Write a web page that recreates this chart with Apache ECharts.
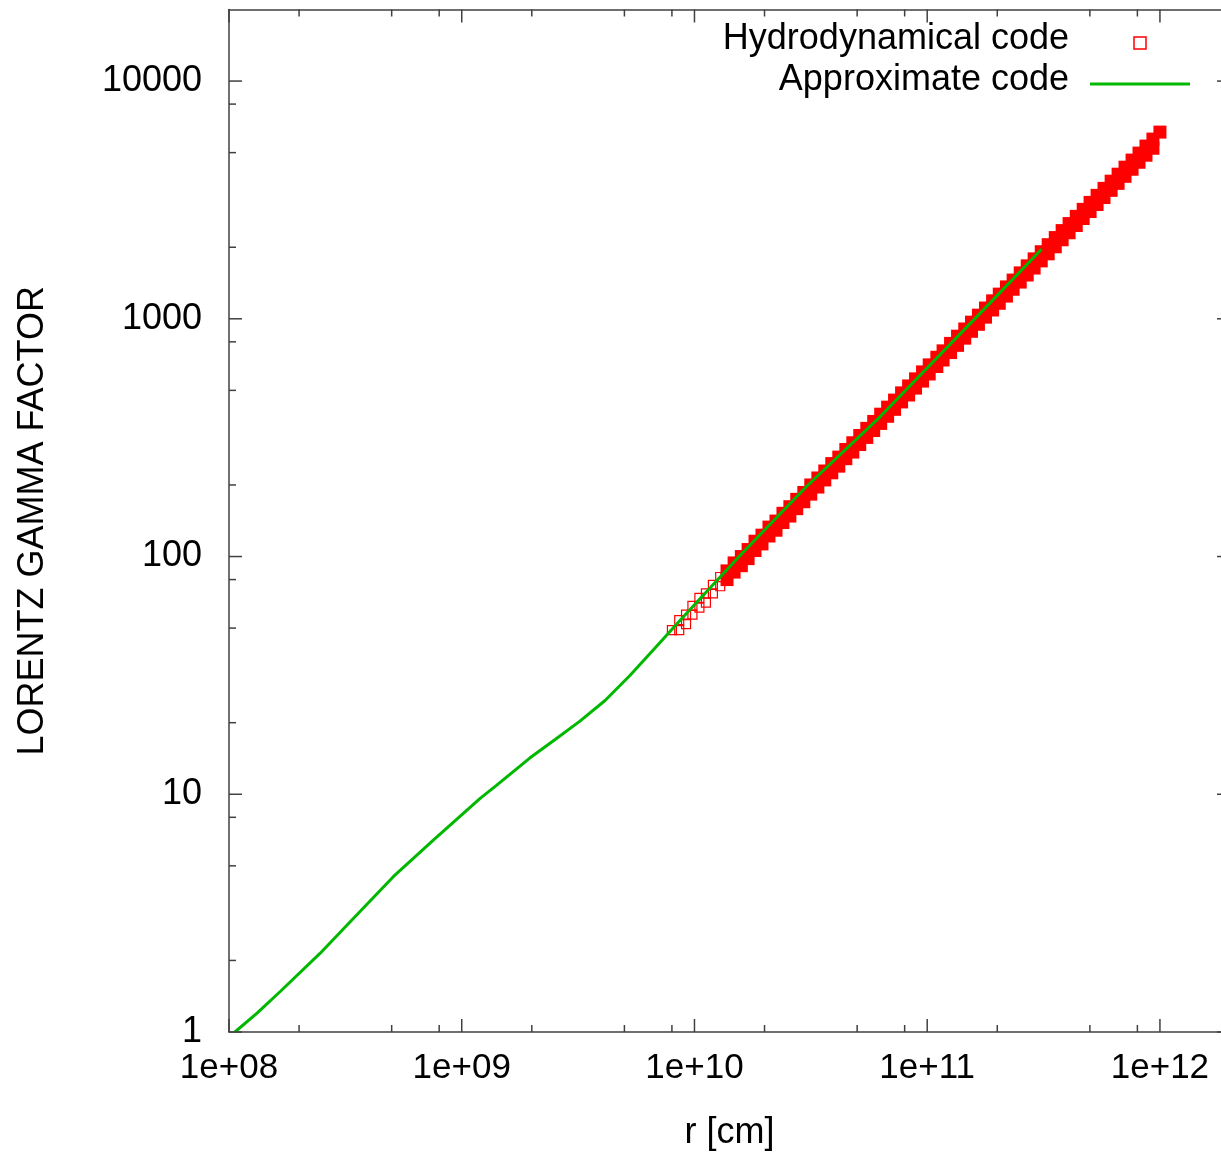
<!DOCTYPE html>
<html><head><meta charset="utf-8">
<script src="https://cdn.jsdelivr.net/npm/echarts@6/dist/echarts.min.js"></script>
<style>html,body{margin:0;padding:0;background:#fff}#chart{width:1221px;height:1152px}</style>
</head><body><div id="chart"></div>
<script>
// ---- data ----
const approxR = [1.06e8, 1.32e8, 1.66e8, 2.46e8, 3.31e8, 5.08e8, 7.55e8, 1.2e9, 1.41e9, 1.96e9, 2.52e9, 3.22e9, 4.13e9, 5.28e9, 6.77e9, 8.66e9, 1.57e10, 3.03e10, 6.27e10, 1.74e11, 3.1e11];
const approxGamma = [1.0, 1.2, 1.48, 2.14, 2.9, 4.5, 6.42, 9.61, 10.9, 14.2, 17.0, 20.3, 24.8, 31.6, 41.2, 53.8, 101, 197, 387, 1088, 1960];

const hydroR = [8.0e9, 8.6e9, 9.2e9, 9.8e9, 1.05e10, 1.12e10, 1.2e10, 1.29e10, 1.38e10, 1.48e10,
  1.59e10, 1.7e10, 1.82e10, 1.95e10, 2.09e10, 2.24e10, 2.4e10, 2.57e10, 2.75e10, 2.95e10,
  3.16e10, 3.39e10, 3.63e10, 3.89e10, 4.17e10, 4.47e10, 4.79e10, 5.13e10, 5.5e10, 5.89e10,
  6.31e10, 6.76e10, 7.24e10, 7.76e10, 8.32e10, 8.91e10, 9.55e10, 1.02e11, 1.1e11, 1.17e11,
  1.26e11, 1.35e11, 1.45e11, 1.55e11, 1.66e11, 1.78e11, 1.91e11, 2.04e11, 2.19e11, 2.34e11,
  2.51e11, 2.69e11, 2.88e11, 3.09e11, 3.31e11, 3.55e11, 3.8e11, 4.07e11, 4.37e11, 4.68e11,
  5.01e11, 5.37e11, 5.75e11, 6.17e11, 6.61e11, 7.08e11, 7.59e11, 8.13e11, 8.71e11, 9.33e11, 1.0e12];
const hydroGammaUpper = [49, 54, 57, 62, 67, 70, 76, 82, 87, 94,
  100, 107, 116, 123, 133, 141, 152, 162, 174, 186,
  200, 214, 229, 246, 262, 282, 301, 323, 346, 370,
  397, 425, 455, 488, 522, 559, 598, 640, 689, 733,
  788, 845, 906, 968, 1036, 1110, 1190, 1270, 1362, 1455,
  1560, 1670, 1787, 1915, 2050, 2196, 2350, 2515, 2697, 2886,
  3088, 3306, 3537, 3792, 4058, 4343, 4652, 4978, 5328, 5700, 6100];
const hydroGammaLower = [null, 49, 52, 57, 61, 64, 70, 75, 80, 86,
  91.5, 98, 106, 113, 122, 129, 139, 148, 159, 170,
  183, 196, 210, 225, 240, 258, 275, 296, 317, 339,
  363, 389, 416, 447, 478, 511, 547, 586, 630, 671,
  721, 773, 829, 886, 948, 1016, 1089, 1162, 1246, 1331,
  1427, 1528, 1635, 1752, 1876, 2009, 2150, 2301, 2468, 2641,
  2826, 3025, 3236, 3470, 3713, 3974, 4257, 4555, 4875, 5216, null];
const hollowUntilR = 1.3e10; // sparse, individually visible squares below this radius

const xMajorTicks = [1e8, 1e9, 1e10, 1e11, 1e12];
const xMinorTicks = [2e8, 5e8, 8e8, 2e9, 5e9, 8e9, 2e10, 5e10, 8e10, 2e11, 5e11, 8e11];
const yMajorTicks = [1, 10, 100, 1000, 10000];
const yMinorTicks = [2, 5, 8, 20, 50, 80, 200, 500, 800, 2000, 5000, 8000];
const X_MIN = 1e8, X_MAX = 2e12, Y_MIN = 1, Y_MAX = 2e4;

// ---- build ----
const FONT = "'Liberation Sans', Arial, sans-serif";
const AXIS_COLOR = '#404040';
const RED = '#ff0000', GREEN = '#00b800';
const MAJOR_LEN = 13, MINOR_LEN = 7;

const hollowPts = [], filledPts = [];
hydroR.forEach((r, i) => {
  [hydroGammaUpper[i], hydroGammaLower[i]].forEach(g => {
    if (g == null) return;
    (r < hollowUntilR ? hollowPts : filledPts).push([r, g]);
  });
});
const approxPts = approxR.map((r, i) => [r, approxGamma[i]]);

const xTickData = xMajorTicks.map(v => [v, Y_MIN, MAJOR_LEN]).concat(xMinorTicks.map(v => [v, Y_MIN, MINOR_LEN]));
const yTickData = yMajorTicks.map(v => [X_MIN, v, MAJOR_LEN]).concat(yMinorTicks.map(v => [X_MIN, v, MINOR_LEN]));

function isPow10(v) { const e = Math.log10(v); return Math.abs(e - Math.round(e)) < 1e-6; }

const tickStyle = { stroke: AXIS_COLOR, lineWidth: 1.5 };
function renderXTick(params, api) {
  const v = api.value(0), len = api.value(2);
  const b = api.coord([v, Y_MIN]), t = api.coord([v, Y_MAX]);
  return { type: 'group', children: [
    { type: 'line', shape: { x1: b[0], y1: b[1], x2: b[0], y2: b[1] - len }, style: tickStyle },
    { type: 'line', shape: { x1: t[0], y1: t[1], x2: t[0], y2: t[1] + len }, style: tickStyle }
  ] };
}
function renderYTick(params, api) {
  const v = api.value(1), len = api.value(2);
  const l = api.coord([X_MIN, v]), r = api.coord([X_MAX, v]);
  return { type: 'group', children: [
    { type: 'line', shape: { x1: l[0], y1: l[1], x2: l[0] + len, y2: l[1] }, style: tickStyle },
    { type: 'line', shape: { x1: r[0], y1: r[1], x2: r[0] - len, y2: r[1] }, style: tickStyle }
  ] };
}

const chart = echarts.init(document.getElementById('chart'), null, { renderer: 'canvas' });
const axisLineStyle = { show: true, lineStyle: { color: AXIS_COLOR, width: 1.5 } };
chart.setOption({
  animation: false,
  backgroundColor: '#ffffff',
  textStyle: { fontFamily: FONT },
  grid: { left: 229, top: 9.5, width: 1001, height: 1022.5, outerBoundsMode: 'none', containLabel: false },
  legend: {
    orient: 'vertical', right: 26, top: 16, align: 'right',
    itemWidth: 100, itemHeight: 12, itemGap: -3,
    symbolKeepAspect: true,
    formatter: name => '{t|' + name + '}',
    textStyle: { fontSize: 36, color: '#000', fontFamily: FONT,
      rich: { t: { fontSize: 36, lineHeight: 36, color: '#000', fontFamily: FONT, padding: [0, 16, 8, 0] } } },
    data: [
      { name: 'Hydrodynamical code', icon: 'path://M0,0L10,0L10,10L0,10Z',
        itemStyle: { color: 'rgba(0,0,0,0)', borderColor: RED, borderWidth: 1.5 } },
      { name: 'Approximate code', icon: 'path://M0,0L100,0L100,3L0,3Z',
        itemStyle: { color: GREEN, borderWidth: 0 } }
    ]
  },
  xAxis: [
    { type: 'log', logBase: 10, min: X_MIN, max: X_MAX, position: 'bottom',
      axisLine: axisLineStyle, axisTick: { show: false }, splitLine: { show: false }, minorTick: { show: false },
      axisLabel: { show: true, color: '#000', fontSize: 35, fontFamily: FONT, margin: 19, showMinLabel: true, showMaxLabel: true,
        formatter: v => isPow10(v) ? '1e+' + String(Math.round(Math.log10(v))).padStart(2, '0') : '' },
      name: 'r [cm]', nameLocation: 'middle', nameGap: 83,
      nameTextStyle: { fontSize: 36, color: '#000', fontFamily: FONT } },
    { type: 'log', logBase: 10, min: X_MIN, max: X_MAX, position: 'top',
      axisLine: axisLineStyle, axisTick: { show: false }, splitLine: { show: false }, axisLabel: { show: false } }
  ],
  yAxis: [
    { type: 'log', logBase: 10, min: Y_MIN, max: Y_MAX, position: 'left',
      axisLine: axisLineStyle, axisTick: { show: false }, splitLine: { show: false }, minorTick: { show: false },
      axisLabel: { show: true, color: '#000', fontSize: 36, fontFamily: FONT, margin: 27, showMinLabel: true,
        formatter: v => isPow10(v) ? String(Math.round(v)) : '' },
      name: 'LORENTZ GAMMA FACTOR', nameLocation: 'middle', nameGap: 178, nameRotate: 90,
      nameTextStyle: { fontSize: 36, color: '#000', fontFamily: FONT } },
    { type: 'log', logBase: 10, min: Y_MIN, max: Y_MAX, position: 'right',
      axisLine: axisLineStyle, axisTick: { show: false }, splitLine: { show: false }, axisLabel: { show: false } }
  ],
  series: [
    { name: 'Hydrodynamical code', type: 'scatter', data: hollowPts, symbol: 'rect', symbolSize: 9,
      itemStyle: { color: 'rgba(0,0,0,0)', borderColor: RED, borderWidth: 1.2, opacity: 1 }, z: 2, silent: true },
    { name: 'Hydrodynamical code', type: 'scatter', data: filledPts, symbol: 'rect', symbolSize: 13,
      itemStyle: { color: RED, borderWidth: 0, opacity: 1 }, z: 2, silent: true },
    { name: 'Approximate code', type: 'line', data: approxPts, symbol: 'none', showSymbol: false,
      lineStyle: { color: GREEN, width: 3 }, itemStyle: { color: GREEN }, z: 3, silent: true, clip: true },
    { type: 'custom', renderItem: renderXTick, data: xTickData, encode: { x: 0, y: 1 }, clip: false, silent: true, z: 5 },
    { type: 'custom', renderItem: renderYTick, data: yTickData, encode: { x: 0, y: 1 }, clip: false, silent: true, z: 5 }
  ]
});
</script></body></html>
